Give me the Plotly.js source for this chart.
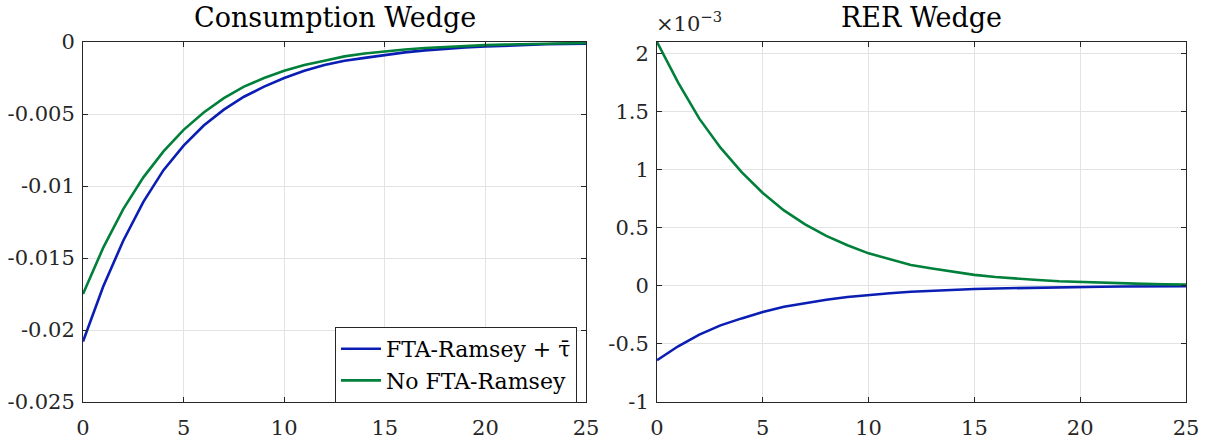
<!DOCTYPE html>
<html>
<head>
<meta charset="utf-8">
<script src="https://cdn.plot.ly/plotly-3.0.1.min.js"></script>
<style>html,body{margin:0;padding:0;background:#fff;}#chart{width:1212px;height:439px;}</style>
</head>
<body>
<div id="chart"></div>
<script>
// horizon (periods)
const periods = [0,1,2,3,4,5,6,7,8,9,10,11,12,13,14,15,16,17,18,19,20,21,22,23,24,25];

// Consumption wedge
const consFTA = [-0.0208,-0.0170,-0.0138,-0.0111,-0.0089,-0.0072,-0.0058,-0.0047,-0.0038,-0.0031,-0.0025,-0.0020,-0.0016,-0.0013,-0.0011,-0.0009,-0.00072,-0.00058,-0.00047,-0.00038,-0.00031,-0.00025,-0.00020,-0.00016,-0.00013,-0.00011];
const consNoFTA = [-0.0175,-0.0143,-0.0116,-0.0094,-0.0076,-0.0061,-0.0049,-0.0039,-0.0031,-0.0025,-0.0020,-0.0016,-0.0013,-0.0010,-0.0008,-0.00065,-0.00052,-0.00042,-0.00034,-0.00027,-0.00022,-0.00018,-0.00014,-0.00011,-0.00009,-0.00007];

// RER wedge (in units of 1e-3)
const rerFTA = [-0.64,-0.52,-0.42,-0.34,-0.28,-0.225,-0.18,-0.147,-0.119,-0.096,-0.078,-0.063,-0.051,-0.041,-0.033,-0.027,-0.022,-0.018,-0.014,-0.012,-0.009,-0.0075,-0.006,-0.005,-0.004,-0.003];
const rerNoFTA = [2.10,1.75,1.44,1.19,0.98,0.80,0.65,0.53,0.43,0.35,0.28,0.23,0.18,0.15,0.12,0.095,0.077,0.062,0.050,0.040,0.033,0.027,0.022,0.017,0.014,0.011];

// tick labels
const xTicks = [0,5,10,15,20,25];
const xTickText = ['0','5','10','15','20','25'];
const consTicks = [0,-0.005,-0.01,-0.015,-0.02,-0.025];
const consTickText = ['0','-0.005','-0.01','-0.015','-0.02','-0.025'];
const rerTicks = [2,1.5,1,0.5,0,-0.5,-1];
const rerTickText = ['2','1.5','1','0.5','0','-0.5','-1'];

const seriesNames = ['FTA-Ramsey + \u03C4\u0304', 'No FTA-Ramsey'];
const titles = ['Consumption Wedge', 'RER Wedge'];

const BLUE = '#0a1eb4';
const GREEN = '#00803a';
const FONT = 'DejaVu Serif';

const traces = [
  {x: periods, y: consFTA, name: seriesNames[0], mode: 'lines', line: {color: BLUE, width: 2.6}, xaxis: 'x', yaxis: 'y'},
  {x: periods, y: consNoFTA, name: seriesNames[1], mode: 'lines', line: {color: GREEN, width: 2.6}, xaxis: 'x', yaxis: 'y'},
  {x: periods, y: rerFTA, name: seriesNames[0], mode: 'lines', line: {color: BLUE, width: 2.6}, xaxis: 'x2', yaxis: 'y2', showlegend: false},
  {x: periods, y: rerNoFTA, name: seriesNames[1], mode: 'lines', line: {color: GREEN, width: 2.6}, xaxis: 'x2', yaxis: 'y2', showlegend: false}
];

const axCommon = {
  showline: true, linecolor: '#262626', linewidth: 1, mirror: 'ticks',
  ticks: 'inside', ticklen: 5, tickcolor: '#262626', tickwidth: 1,
  showgrid: true, gridcolor: '#e3e3e3', gridwidth: 1, zeroline: false,
  tickfont: {family: FONT, size: 21, color: '#262626'}, fixedrange: true
};
const yDom = [37/439, 397/439];

const layout = {
  width: 1212, height: 439,
  margin: {l: 0, r: 0, t: 0, b: 0},
  paper_bgcolor: '#fff', plot_bgcolor: '#fff',
  showlegend: true,
  font: {family: FONT, color: '#000'},
  xaxis: Object.assign({}, axCommon, {domain: [83/1212, 586/1212], range: [0, 25], tickvals: xTicks, ticktext: xTickText, anchor: 'y', ticklabelstandoff: 7}),
  yaxis: Object.assign({}, axCommon, {domain: yDom, range: [-0.025, 0], tickvals: consTicks, ticktext: consTickText, anchor: 'x', ticklabelstandoff: 3}),
  xaxis2: Object.assign({}, axCommon, {domain: [657/1212, 1186/1212], range: [0, 25], tickvals: xTicks, ticktext: xTickText, anchor: 'y2', ticklabelstandoff: 7}),
  yaxis2: Object.assign({}, axCommon, {domain: yDom, range: [-1, 2.1], tickvals: rerTicks, ticktext: rerTickText, anchor: 'x2', ticklabelstandoff: 3}),
  legend: {
    x: 577/1212, xanchor: 'right', y: 1 - 327/439, yanchor: 'top',
    bgcolor: '#fff', bordercolor: '#262626', borderwidth: 1,
    font: {family: FONT, size: 22, color: '#000'},
    tracegroupgap: 0, itemwidth: 40
  },
  annotations: [
    {text: titles[0], xref: 'paper', yref: 'paper', x: 334.5/1212, y: 1 - 18/439, xanchor: 'center', yanchor: 'middle', showarrow: false, font: {family: FONT, size: 27, color: '#000'}},
    {text: titles[1], xref: 'paper', yref: 'paper', x: 921.5/1212, y: 1 - 18/439, xanchor: 'center', yanchor: 'middle', showarrow: false, font: {family: FONT, size: 27, color: '#000'}},
    {text: '\u00D710<sup>\u22123</sup>', xref: 'paper', yref: 'paper', x: 654/1212, y: 1 - 22/439, xanchor: 'left', yanchor: 'middle', showarrow: false, font: {family: FONT, size: 21, color: '#262626'}}
  ]
};

Plotly.newPlot('chart', traces, layout, {staticPlot: true, displayModeBar: false});
</script>
</body>
</html>
